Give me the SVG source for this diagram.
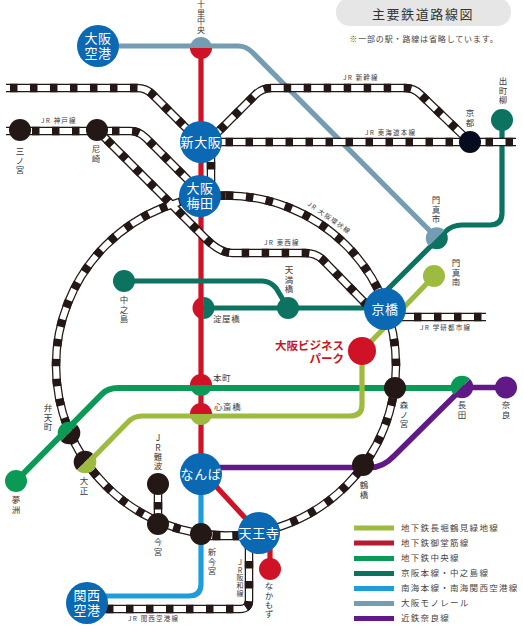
<svg xmlns="http://www.w3.org/2000/svg" xmlns:xlink="http://www.w3.org/1999/xlink" width="523" height="626" viewBox="0 0 523 626">
<style>
text{font-family:"Noto Sans CJK JP","Noto Sans",sans-serif}
.ln{fill:none;stroke-width:5.200}
.mono{stroke:#749cb2}.mido{stroke:#cf1226}.chuo{stroke:#0b9a56;stroke-width:6}.keihan{stroke:#0c7361}.lime{stroke:#9dbc3f}.nankai{stroke:#1e9ed9}.kin{stroke:#601986;stroke-width:5.500}
.rail{fill:none;stroke:#231815;stroke-width:8.500}
.bed{fill:none;stroke:#fff;stroke-width:6}
.tie{fill:none;stroke:#231815;stroke-width:8.500;stroke-dasharray:7.500 12.500}
.big{fill:#0b68b2}.blk{fill:#231815}
.nt{fill:#fff;font-size:13px;text-anchor:middle;letter-spacing:.6px}
.sl{fill:#3a3a3a;font-size:8.500px;letter-spacing:.6px}
.v{fill:#3a3a3a;font-size:8.500px;writing-mode:vertical-rl;text-orientation:upright;letter-spacing:.6px}
.jr{fill:#3a3a3a;font-size:6.500px;letter-spacing:1.200px}
.lg{fill:#444;font-size:8.500px;letter-spacing:1.300px}
</style>
<defs>
<g id="tracks">
<path id="t-shinkansen" stroke-dashoffset="16" d="M6 88H137Q146 88 152 94L197 139"/>
<path id="t-shinkansen2" stroke-dashoffset="16" d="M203 147L255 95Q262 88 272 88H405Q414 88 420 94L470 142"/>
<path id="t-tokaido" stroke-dashoffset="15.500" d="M201 142H516"/>
<path id="t-kobe" stroke-dashoffset="14" d="M6 131H130Q139 131 146 138L197 189"/>
<path id="t-umeda" stroke-dashoffset="0" d="M211 142V196"/>
<path id="t-tozai" stroke-dashoffset="6" d="M97 130L205 238Q220 253 232 253H305Q316 253 323 260L366 304"/>
<path id="t-loop" stroke-dashoffset="0" d="M226 195.500A170 170 0 1 1 226 535.500A170 170 0 1 1 226 195.500Z"/>
<path id="t-gakken" stroke-dashoffset="11" d="M385 317H486"/>
<path id="t-namba" stroke-dashoffset="2" d="M158 484V524"/>
<path id="t-tennoji" stroke-dashoffset="8" d="M201 536H259"/>
<path id="t-hanwa" stroke-dashoffset="1" d="M87 609H240Q249 609 249 600V533"/>
</g>
</defs>

<rect id="title-pill" x="336" y="-2" width="175" height="28" rx="13.500" fill="#e6e6e6"/>
<text x="423" y="19" text-anchor="middle" font-size="13" letter-spacing="1.600" fill="#333">主要鉄道路線図</text>
<text x="424" y="42" text-anchor="middle" font-size="8" letter-spacing=".85" fill="#444">※一部の駅・路線は省略しています。</text>

<g id="connectors">
<path class="ln mono" d="M98 46H238Q246 46 252 52L437 238"/>
<path class="ln mido" d="M201 48V470L259 533M270 540V569"/>
<path class="ln keihan" d="M124 281H262Q270 281 276 288L288 308M203 308H385M380 297L445 232Q452 225 462 225H490Q502 225 502 213V120"/>
<path class="ln chuo" d="M16 481L102 394Q108 388 118 388H462"/>
<path class="ln lime" d="M434 276L362 351V405Q362 416 350 416H142Q133 416 127 423L85 466"/>
<path class="ln nankai" d="M201 474V584Q201 596 189 596H87"/>
<path class="ln kin" d="M506 387.500H463L394 456Q383 467.500 370 467.500H201"/>
<use xlink:href="#tracks" class="rail"/>
<use xlink:href="#tracks" class="bed"/>
<use xlink:href="#tracks" class="tie"/>
</g>

<g id="n-itami"><circle class="big" cx="98" cy="46" r="21"/><text class="nt" x="98"><tspan x="98" y="43">大阪</tspan><tspan x="98" y="58">空港</tspan></text></g>
<g id="n-senri"><path fill="#cf1226" d="M190 48A11 11 0 0 0 212 48Z"/><path fill="#749cb2" d="M190 48A11 11 0 0 1 212 48Z"/><text class="v" style="font-size:8px" x="201" y="0">十里中央</text></g>
<g id="n-shinosaka"><circle class="big" cx="201" cy="142" r="21"/><text class="nt" x="201" y="147">新大阪</text></g>
<g id="n-umeda"><circle class="big" cx="200" cy="196" r="21"/><text class="nt"><tspan x="200" y="193">大阪</tspan><tspan x="200" y="208">梅田</tspan></text></g>
<g id="n-sannomiya"><circle class="blk" cx="20" cy="130" r="11"/><text class="v" x="20" y="147">三ノ宮</text></g>
<g id="n-amagasaki"><circle class="blk" cx="97" cy="130" r="11"/><text class="v" x="96" y="145">尼崎</text></g>
<g id="n-kyoto"><circle fill="#070b1f" cx="470" cy="142" r="11"/><text class="v" x="470" y="109">京都</text></g>
<g id="n-demachi"><circle fill="#0c7361" cx="502" cy="120" r="11"/><text class="v" x="503" y="77">出町柳</text></g>
<g id="n-kadomashi"><path fill="#749cb2" d="M429 246A11 11 0 0 1 444.600 230.400Z"/><path fill="#0c7361" d="M429 246A11 11 0 0 0 444.600 230.400Z"/><text class="v" x="436" y="196">門真市</text></g>
<g id="n-kadomaminami"><circle fill="#9dbc3f" cx="434" cy="276" r="11"/><text class="v" x="456" y="259">門真南</text></g>
<g id="n-kyobashi"><circle class="big" cx="385" cy="309" r="21"/><text class="nt" x="385" y="314">京橋</text></g>
<g id="n-tenmabashi"><circle fill="#0c7361" cx="288" cy="308" r="11"/><text class="v" x="289" y="266">天満橋</text></g>
<g id="n-nakanoshima"><circle fill="#0c7361" cx="124" cy="281" r="11"/><text class="v" x="124" y="296">中之島</text></g>
<g id="n-yodoyabashi"><path fill="#cf1226" d="M203.500 297A11 11 0 0 0 203.500 319Z"/><path fill="#0c7361" d="M203.500 297A11 11 0 0 1 203.500 319Z"/><text class="sl" x="213" y="322">淀屋橋</text></g>
<g id="n-obp"><circle fill="#cf1226" cx="362" cy="351" r="14"/><text text-anchor="end" font-size="11.500" font-weight="700" fill="#c8161e"><tspan x="344" y="350">大阪ビジネス</tspan><tspan x="344" y="363">パーク</tspan></text></g>
<g id="n-hommachi"><path fill="#cf1226" d="M190 385A11 11 0 0 1 212 385Z"/><path fill="#0b9a56" d="M190 385A11 11 0 0 0 212 385Z"/><text class="sl" x="213" y="381">本町</text></g>
<g id="n-shinsaibashi"><path fill="#cf1226" d="M190 414A11 11 0 0 1 212 414Z"/><path fill="#9dbc3f" d="M190 414A11 11 0 0 0 212 414Z"/><text class="sl" x="214" y="410">心斎橋</text></g>
<g id="n-morinomiya"><circle class="blk" cx="395" cy="388" r="11"/><text class="v" x="404" y="401">森ノ宮</text></g>
<g id="n-nagata"><path fill="#0b9a56" d="M454 395A11 11 0 0 1 470 379Z"/><path fill="#601986" d="M454 395A11 11 0 0 0 470 379Z"/><text class="v" x="462" y="401">長田</text></g>
<g id="n-nara"><circle fill="#601986" cx="506" cy="387.500" r="11"/><text class="v" x="506" y="401">奈良</text></g>
<g id="n-bentencho"><path fill="#0b9a56" d="M61 441A11 11 0 0 1 77 425Z"/><path class="blk" d="M61 441A11 11 0 0 0 77 425Z"/><text class="v" x="48" y="404">弁天町</text></g>
<g id="n-taisho"><path class="blk" d="M77 470A11 11 0 0 1 93 454Z"/><path fill="#9dbc3f" d="M77 470A11 11 0 0 0 93 454Z"/><text class="v" x="84" y="477">大正</text></g>
<g id="n-yumeshima"><circle fill="#0b9a56" cx="16" cy="481" r="11"/><text class="v" x="16" y="496">夢洲</text></g>
<g id="n-jrnamba"><circle class="blk" cx="158" cy="484" r="11"/><text class="v" x="158" y="434">JR難波</text></g>
<g id="n-imamiya"><circle class="blk" cx="158" cy="524" r="11"/><text class="v" x="158" y="538">今宮</text></g>
<g id="n-namba"><circle class="big" cx="201" cy="474" r="21"/><text class="nt" x="201" y="479">なんば</text></g>
<g id="n-shinimamiya"><circle class="blk" cx="201" cy="534" r="11"/><text class="v" x="212" y="548">新今宮</text></g>
<g id="n-tsuruhashi"><circle class="blk" cx="363" cy="465" r="11"/><text class="v" x="364" y="481">鶴橋</text></g>
<g id="n-tennoji"><circle class="big" cx="259" cy="533" r="21"/><text class="nt" x="259" y="538">天王寺</text></g>
<g id="n-nakamozu"><circle fill="#cf1226" cx="270" cy="569" r="11"/><text class="v" x="269" y="582">なかもず</text></g>
<g id="n-kanku"><circle class="big" cx="87" cy="603" r="21"/><text class="nt"><tspan x="87" y="600">関西</tspan><tspan x="87" y="615">空港</tspan></text></g>

<g id="line-labels">
<text class="jr" x="41" y="123">JR 神戸線</text>
<text class="jr" x="343" y="80">JR 新幹線</text>
<text class="jr" x="365" y="135">JR 東海道本線</text>
<text class="jr" transform="translate(307 205) rotate(35)">JR 大阪環状線</text>
<text class="jr" x="264" y="245">JR 東西線</text>
<text class="jr" x="420" y="330">JR 学研都市線</text>
<text class="jr" x="128" y="621">JR 関西空港線</text>
<text class="v" style="font-size:7px" x="240" y="559">JR阪和線</text>
</g>

<g id="legend">
<rect x="354" y="525.500" width="40" height="5" fill="#9dbc3f"/><text class="lg" x="401" y="531">地下鉄長堀鶴見緑地線</text>
<rect x="354" y="540.500" width="40" height="5" fill="#b51b32"/><text class="lg" x="401" y="546">地下鉄御堂筋線</text>
<rect x="354" y="556" width="40" height="5" fill="#0b9a56"/><text class="lg" x="401" y="561">地下鉄中央線</text>
<rect x="354" y="571" width="40" height="5" fill="#0c7361"/><text class="lg" x="401" y="576">京阪本線・中之島線</text>
<rect x="354" y="586" width="40" height="5" fill="#1e9ed9"/><text class="lg" x="401" y="591">南海本線・南海関西空港線</text>
<rect x="354" y="601" width="40" height="5" fill="#749cb2"/><text class="lg" x="401" y="606">大阪モノレール</text>
<rect x="354" y="616" width="40" height="5" fill="#601986"/><text class="lg" x="401" y="621">近鉄奈良線</text>
</g>
</svg>
